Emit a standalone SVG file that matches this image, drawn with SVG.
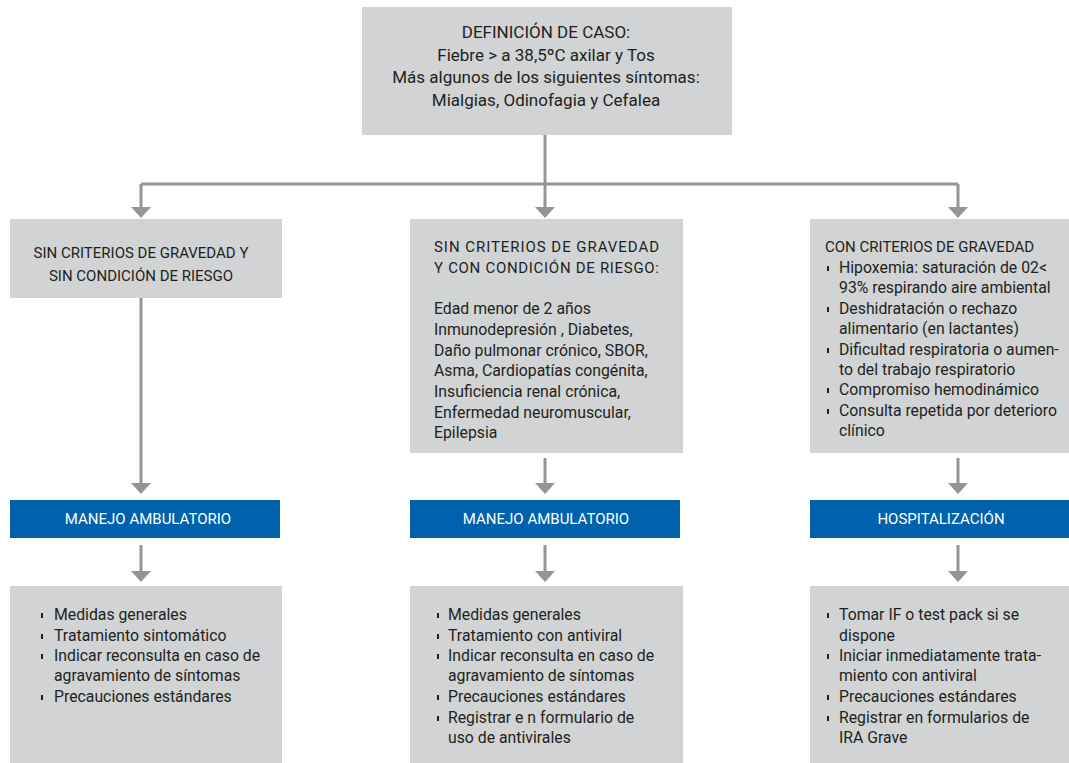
<svg xmlns="http://www.w3.org/2000/svg" width="1069" height="763" viewBox="0 0 1069 763">
<style>
.box{fill:#d1d3d4}
.bar{fill:#0061ad}
.t{font-family:Roboto,"Liberation Sans",sans-serif;font-size:15.8px;fill:#231f20}
.cap{font-size:15px}
.top{font-size:17px}
.c{text-anchor:middle}
.w{fill:#ffffff;font-size:15px}
.conn{fill:none;stroke:#939598;stroke-width:3}
.bul{fill:#231f20}
</style>
<defs>
<marker id="ah" markerUnits="userSpaceOnUse" viewBox="0 -10 11 20" refX="0" refY="0" markerWidth="11" markerHeight="20" orient="auto">
<path d="M0,-10 L11,0 L0,10 z" fill="#939598"/>
</marker>
<rect id="b" width="2" height="5" class="bul"/>
</defs>

<g id="connectors">
<path class="conn" d="M545,135 V207" marker-end="url(#ah)"/>
<path class="conn" d="M141,184 H958"/>
<path class="conn" d="M141,184 V207" marker-end="url(#ah)"/>
<path class="conn" d="M958,184 V207" marker-end="url(#ah)"/>
<path class="conn" d="M141,298 V483" marker-end="url(#ah)"/>
<path class="conn" d="M545,458 V483" marker-end="url(#ah)"/>
<path class="conn" d="M958,458 V483" marker-end="url(#ah)"/>
<path class="conn" d="M141,545 V571" marker-end="url(#ah)"/>
<path class="conn" d="M545,545 V571" marker-end="url(#ah)"/>
<path class="conn" d="M958,545 V571" marker-end="url(#ah)"/>
</g>

<g id="caso">
<rect class="box" x="362" y="7" width="370" height="128"/>
<text class="t top c" x="546" y="38">DEFINICIÓN DE CASO:</text>
<text class="t top c" x="546" y="60.5">Fiebre &gt; a 38,5ºC axilar y Tos</text>
<text class="t top c" x="546" y="83">Más algunos de los siguientes síntomas:</text>
<text class="t top c" x="546" y="105.5">Mialgias, Odinofagia y Cefalea</text>
</g>

<g id="sin-riesgo">
<rect class="box" x="10" y="219" width="272" height="79"/>
<text class="t cap c" x="141" y="258">SIN CRITERIOS DE GRAVEDAD Y</text>
<text class="t cap c" x="141" y="281">SIN CONDICIÓN DE RIESGO</text>
</g>

<g id="con-riesgo">
<rect class="box" x="410" y="219" width="273" height="234"/>
<text class="t cap" x="434" y="252" textLength="225" lengthAdjust="spacing">SIN CRITERIOS DE GRAVEDAD</text>
<text class="t cap" x="434" y="273" textLength="225" lengthAdjust="spacing">Y CON CONDICIÓN DE RIESGO:</text>
<text class="t" x="434" y="314">Edad menor de 2 años</text>
<text class="t" x="434" y="335">Inmunodepresión , Diabetes,</text>
<text class="t" x="434" y="356">Daño pulmonar crónico, SBOR,</text>
<text class="t" x="434" y="376">Asma, Cardiopatías congénita,</text>
<text class="t" x="434" y="397">Insuficiencia renal crónica,</text>
<text class="t" x="434" y="418">Enfermedad neuromuscular,</text>
<text class="t" x="434" y="438">Epilepsia</text>
</g>

<g id="gravedad">
<rect class="box" x="810" y="219" width="259" height="234"/>
<text class="t cap" x="825" y="252">CON CRITERIOS DE GRAVEDAD</text>
<use href="#b" x="827" y="266"/>
<text class="t" x="839" y="273">Hipoxemia: saturación de 02&lt;</text>
<text class="t" x="839" y="293">93% respirando aire ambiental</text>
<use href="#b" x="827" y="307"/>
<text class="t" x="839" y="314">Deshidratación o rechazo</text>
<text class="t" x="839" y="334">alimentario (en lactantes)</text>
<use href="#b" x="827" y="348"/>
<text class="t" x="839" y="355">Dificultad respiratoria o aumen-</text>
<text class="t" x="839" y="375">to del trabajo respiratorio</text>
<use href="#b" x="827" y="388"/>
<text class="t" x="839" y="395">Compromiso hemodinámico</text>
<use href="#b" x="827" y="409"/>
<text class="t" x="839" y="416">Consulta repetida por deterioro</text>
<text class="t" x="839" y="436">clínico</text>
</g>

<g id="manejo1">
<rect class="bar" x="10" y="500" width="270" height="38"/>
<text class="t w c" x="148" y="524">MANEJO AMBULATORIO</text>
</g>
<g id="manejo2">
<rect class="bar" x="410" y="500" width="270" height="38"/>
<text class="t w c" x="546" y="524">MANEJO AMBULATORIO</text>
</g>
<g id="hosp">
<rect class="bar" x="810" y="500" width="259" height="38"/>
<text class="t w c" x="941" y="524">HOSPITALIZACIÓN</text>
</g>

<g id="acciones1">
<rect class="box" x="10" y="586" width="272" height="177"/>
<use href="#b" x="41" y="613"/>
<text class="t" x="54" y="620">Medidas generales</text>
<use href="#b" x="41" y="634"/>
<text class="t" x="54" y="641">Tratamiento sintomático</text>
<use href="#b" x="41" y="654"/>
<text class="t" x="54" y="661">Indicar reconsulta en caso de</text>
<text class="t" x="54" y="681">agravamiento de síntomas</text>
<use href="#b" x="41" y="695"/>
<text class="t" x="54" y="702">Precauciones estándares</text>
</g>

<g id="acciones2">
<rect class="box" x="410" y="586" width="273" height="177"/>
<use href="#b" x="437" y="613"/>
<text class="t" x="448" y="620">Medidas generales</text>
<use href="#b" x="437" y="634"/>
<text class="t" x="448" y="641">Tratamiento con antiviral</text>
<use href="#b" x="437" y="654"/>
<text class="t" x="448" y="661">Indicar reconsulta en caso de</text>
<text class="t" x="448" y="681">agravamiento de síntomas</text>
<use href="#b" x="437" y="695"/>
<text class="t" x="448" y="702">Precauciones estándares</text>
<use href="#b" x="437" y="716"/>
<text class="t" x="448" y="723">Registrar e n formulario de</text>
<text class="t" x="448" y="743">uso de antivirales</text>
</g>

<g id="acciones3">
<rect class="box" x="810" y="586" width="259" height="177"/>
<use href="#b" x="827" y="613"/>
<text class="t" x="839" y="620">Tomar IF o test pack si se</text>
<text class="t" x="839" y="641">dispone</text>
<use href="#b" x="827" y="654"/>
<text class="t" x="839" y="661">Iniciar inmediatamente trata-</text>
<text class="t" x="839" y="681">miento con antiviral</text>
<use href="#b" x="827" y="695"/>
<text class="t" x="839" y="702">Precauciones estándares</text>
<use href="#b" x="827" y="716"/>
<text class="t" x="839" y="723">Registrar en formularios de</text>
<text class="t" x="839" y="743">IRA Grave</text>
</g>
</svg>
